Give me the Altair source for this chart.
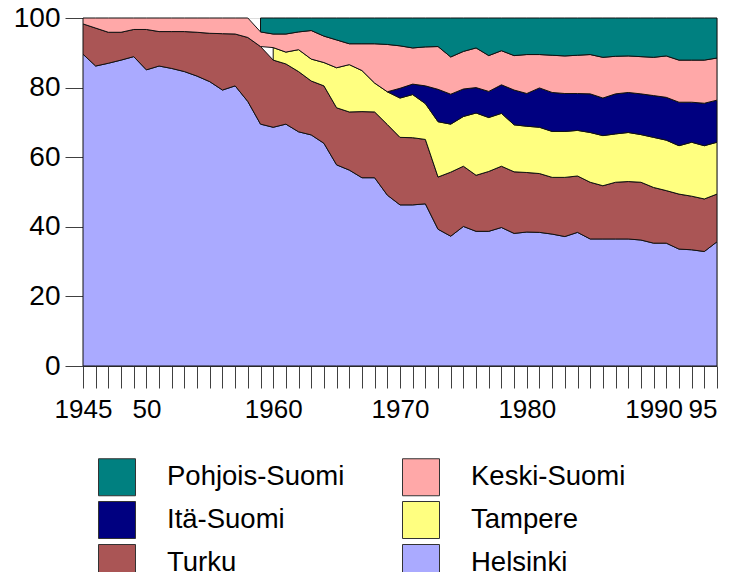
import altair as alt
import pandas as pd

years = list(range(1945, 1996))

helsinki = [89.6, 86.2, 87.0, 87.9, 88.9, 85.1, 86.2, 85.5, 84.6, 83.3,
            81.7, 79.3, 80.5, 76.0, 69.5, 68.6, 69.5, 67.3, 66.4, 64.0,
            57.8, 56.3, 54.1, 54.1, 49.1, 46.3, 46.3, 46.6, 39.3, 37.3,
            40.1, 38.7, 38.7, 39.8, 38.1, 38.5, 38.4, 37.9, 37.2, 38.4,
            36.5, 36.5, 36.5, 36.5, 36.2, 35.3, 35.3, 33.6, 33.4, 32.9, 35.7]
turku = [8.7, 10.9, 8.9, 8.0, 7.8, 11.6, 9.9, 10.6, 11.5, 12.6,
         13.9, 16.2, 14.9, 18.4, 22.3, 19.3, 17.3, 17.3, 15.5, 16.5,
         16.4, 16.7, 19.0, 18.9, 20.3, 19.4, 19.3, 18.5, 15.0, 18.4,
         17.3, 16.1, 17.2, 17.6, 17.7, 17.1, 16.9, 16.3, 17.0, 16.2,
         16.3, 15.3, 16.3, 16.5, 16.6, 16.0, 15.1, 15.8, 15.4, 15.1, 13.7]
tampere = [None] * 15 + [
           3.6, 3.4, 6.3, 6.3, 6.7,
           11.5, 13.6, 11.8, 8.3, 9.4, 11.3, 12.4, 10.3, 15.9, 13.8,
           14.3, 17.9, 15.5, 15.2, 13.5, 13.3, 13.3, 13.2, 13.2, 13.1,
           14.3, 14.4, 13.9, 14.1, 13.7, 14.4, 14.5, 13.9, 15.5, 15.3, 14.9]
ita = [None] * 24 + [
       0.0, 2.8, 3.0, 5.1, 9.3, 8.6,
       7.9, 7.3, 7.5, 8.2, 10.0, 9.4, 11.3, 11.2, 10.9, 10.6,
       11.1, 10.8, 11.5, 11.5, 11.7, 12.0, 12.3, 12.5, 11.5, 12.2, 12.1]
keski = [1.7, 2.9, 4.1, 4.1, 3.3, 3.3, 3.9, 3.9, 3.9, 4.1,
         4.4, 4.5, 4.6, 5.6, 4.2, 3.9, 5.2, 5.1, 8.2, 7.6,
         8.0, 6.0, 7.7, 11.3, 13.6, 12.2, 10.4, 11.2, 12.3, 10.7,
         10.8, 11.4, 10.3, 9.8, 9.9, 11.2, 9.6, 10.7, 10.8, 11.0,
         11.3, 11.7, 10.8, 10.5, 10.7, 11.0, 11.9, 12.1, 12.1, 12.4, 12.1]
pohjois = [None] * 14 + [
           4.0, 4.6, 4.6, 4.0, 3.6, 5.2,
           6.3, 7.4, 7.4, 7.4, 7.6, 8.0, 8.6, 8.3, 8.2, 11.2,
           9.6, 8.6, 10.8, 9.4, 10.8, 10.5, 10.5, 10.7, 10.9, 10.7,
           10.5, 11.3, 11.0, 10.9, 11.1, 11.3, 10.9, 12.1, 12.1, 12.1, 11.5]

# bottom-to-top stacking order
series_names = ["Helsinki", "Turku", "Tampere", "Itä-Suomi", "Keski-Suomi", "Pohjois-Suomi"]
series_values = [helsinki, turku, tampere, ita, keski, pohjois]
series_colors = ["#AAAAFF", "#AA5555", "#FFFF80", "#000080", "#FFA8A8", "#008080"]

# legend order (filled column by column, 2 columns x 3 rows)
legend_order = ["Pohjois-Suomi", "Itä-Suomi", "Turku", "Keski-Suomi", "Tampere", "Helsinki"]

tick_years = [1945, 1950, 1960, 1970, 1980, 1990, 1995]
tick_texts = ["1945", "50", "1960", "1970", "1980", "1990", "95"]

rows = []
for k, (name, vals) in enumerate(zip(series_names, series_values)):
    for yr, v in zip(years, vals):
        if v is not None:
            rows.append({"year": yr, "region": name, "value": v, "order": k})
df = pd.DataFrame(rows)

color_map = dict(zip(series_names, series_colors))

label_expr = "''"
for yv, txt in reversed(list(zip(tick_years, tick_texts))):
    label_expr = f"datum.value == {yv} ? '{txt}' : ({label_expr})"

FONT = "Liberation Sans"

chart = alt.Chart(df).transform_stack(
    stack="value",
    groupby=["year"],
    as_=["y0", "y1"],
    sort=[alt.SortField("order", order="ascending")],
).mark_area(stroke="#111111", strokeWidth=1, interpolate="linear").encode(
    x=alt.X(
        "year:Q",
        scale=alt.Scale(domain=[1945, 1995], nice=False, zero=False),
        axis=alt.Axis(
            values=years,
            labelExpr=label_expr,
            labelOverlap=False,
            labelFlush=False,
            labelBound=False,
            tickSize=22,
            labelPadding=8,
            labelFontSize=26,
            labelFont=FONT,
            labelColor="black",
            domainColor="#404040",
            tickColor="#404040",
            grid=False,
            title=None,
            labelAlign={"condition": {"test": "datum.value == 1995", "value": "right"}, "value": "center"},
        ),
    ),
    y=alt.Y(
        "y0:Q",
        scale=alt.Scale(domain=[0, 100], nice=False),
        axis=alt.Axis(
            values=[0, 20, 40, 60, 80, 100],
            tickSize=18,
            labelPadding=5,
            labelFontSize=28,
            labelFont=FONT,
            labelColor="black",
            domainColor="#404040",
            tickColor="#404040",
            grid=False,
            title=None,
        ),
    ),
    y2="y1:Q",
    color=alt.Color(
        "region:N",
        scale=alt.Scale(domain=legend_order, range=[color_map[n] for n in legend_order]),
        legend=alt.Legend(
            title=None,
            orient="none",
            legendX=15,
            legendY=440,
            columns=2,
            symbolType="square",
            symbolSize=1369,
            symbolStrokeColor="#333333",
            symbolStrokeWidth=1,
            symbolOpacity=1,
            labelFontSize=27.5,
            labelFont=FONT,
            labelColor="black",
            labelOffset=31,
            labelLimit=400,
            columnPadding=55,
            rowPadding=1,
            padding=0,
        ),
    ),
).properties(
    width=634,
    height=348,
    autosize=alt.AutoSizeParams(type="none"),
    padding={"left": 75, "top": 10, "right": 10, "bottom": 206},
).configure_view(
    stroke="#808080", strokeWidth=1
).configure(font=FONT)

chart.save("out.html", embed_options={"renderer": "svg", "actions": False})
